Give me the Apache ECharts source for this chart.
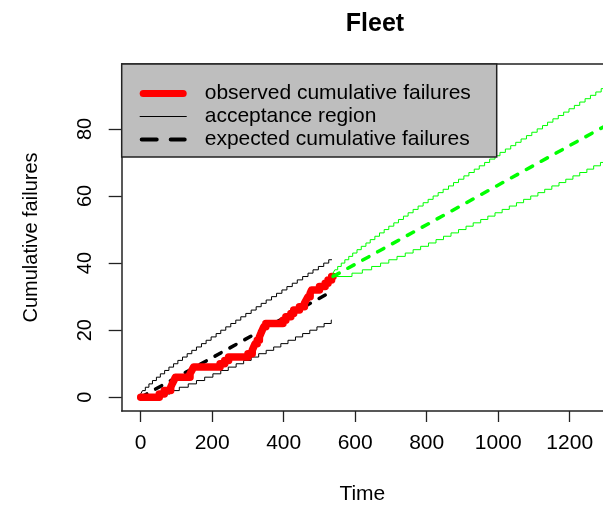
<!DOCTYPE html>
<html><head><meta charset="utf-8">
<script src="https://cdn.jsdelivr.net/npm/echarts@6/dist/echarts.min.js"></script>
<style>html,body{margin:0;padding:0;background:#fff}#c{width:603px;height:505px}</style>
</head><body><div id="c"></div>
<script>
// ---- data ----
const xTicks = [0, 200, 400, 600, 800, 1000, 1200];
const yTicks = [0, 20, 40, 60, 80];

const obsTime  = [0, 52, 66, 84, 88, 93, 97, 138, 143, 148, 222, 235, 246, 300, 312, 316, 320, 326, 332, 336, 340, 344, 350, 398, 406, 420, 428, 444, 458, 463, 468, 474, 478, 500, 516, 524, 534, 538];
const obsCount = [0, 1, 2, 3, 4, 5, 6, 7, 8, 9, 10, 11, 12, 13, 14, 15, 16, 17, 18, 19, 20, 21, 22, 23, 24, 25, 26, 27, 28, 29, 30, 31, 32, 33, 34, 35, 36, 36];

const accUpperTime  = [0, 5, 13, 23, 33, 44, 55, 67, 79, 92, 104, 117, 130, 143, 156, 170, 183, 197, 211, 224, 238, 252, 266, 280, 294, 309, 323, 337, 351, 366, 380, 395, 409, 424, 438, 453, 468, 482, 497, 512, 526, 535];
const accUpperLevel = [1, 2, 3, 4, 5, 6, 7, 8, 9, 10, 11, 12, 13, 14, 15, 16, 17, 18, 19, 20, 21, 22, 23, 24, 25, 26, 27, 28, 29, 30, 31, 32, 33, 34, 35, 36, 37, 38, 39, 40, 41, 41];

const accLowerTime  = [0, 53, 82, 108, 133, 156, 179, 202, 224, 245, 267, 288, 309, 330, 351, 372, 392, 412, 433, 453, 473, 493, 513, 533, 535];
const accLowerLevel = [0, 1, 2, 3, 4, 5, 6, 7, 8, 9, 10, 11, 12, 13, 14, 15, 16, 17, 18, 19, 20, 21, 22, 23, 23];

const expTime  = [0, 535];
const expValue = [0, 31.6];

const predUpperTime  = [538, 538, 543, 551, 561, 571, 582, 593, 605, 617, 630, 642, 655, 668, 681, 694, 708, 721, 735, 748, 762, 776, 790, 804, 818, 832, 846, 861, 875, 889, 904, 918, 933, 947, 962, 976, 991, 1005, 1020, 1035, 1049, 1064, 1079, 1094, 1109, 1124, 1138, 1153, 1168, 1183, 1198, 1213, 1228, 1243, 1258, 1273, 1288, 1303, 1319, 1330];
const predUpperLevel = [36, 37, 38, 39, 40, 41, 42, 43, 44, 45, 46, 47, 48, 49, 50, 51, 52, 53, 54, 55, 56, 57, 58, 59, 60, 61, 62, 63, 64, 65, 66, 67, 68, 69, 70, 71, 72, 73, 74, 75, 76, 77, 78, 79, 80, 81, 82, 83, 84, 85, 86, 87, 88, 89, 90, 91, 92, 93, 94, 94];

const predLowerTime  = [538, 591, 620, 646, 671, 694, 717, 740, 762, 783, 805, 826, 847, 868, 889, 910, 930, 951, 971, 991, 1011, 1031, 1051, 1071, 1091, 1111, 1130, 1150, 1170, 1189, 1209, 1228, 1248, 1267, 1286, 1306, 1330];
const predLowerLevel = [36, 37, 38, 39, 40, 41, 42, 43, 44, 45, 46, 47, 48, 49, 50, 51, 52, 53, 54, 55, 56, 57, 58, 59, 60, 61, 62, 63, 64, 65, 66, 67, 68, 69, 70, 71, 71];

const predExpTime  = [538, 1330];
const predExpValue = [36, 82.7];

const legendNames = ['observed cumulative failures', 'acceptance region', 'expected cumulative failures'];

// ---- chart ----
const F = '"Liberation Sans", Arial, Helvetica, sans-serif';
const zip = (a, b) => a.map((v, i) => [v, b[i]]);
const AX = '#222';
const plain = v => String(v);

const chart = echarts.init(document.getElementById('c'), null, {renderer: 'canvas'});
chart.setOption({
  animation: false,
  backgroundColor: '#fff',
  title: {
    text: 'Fleet', left: 370, top: 7, textAlign: 'center',
    textStyle: {fontSize: 25, fontWeight: 'bold', color: '#000', fontFamily: F}
  },
  grid: {left: 121.7, right: 0, top: 64, bottom: 94, containLabel: false, outerBoundsMode: 'none'},
  xAxis: [{
    type: 'value', min: -53.1, max: 1293.1, position: 'bottom',
    axisLine: {show: true, onZero: false, lineStyle: {color: AX, width: 1.5}},
    axisTick: {show: true, length: 11, customValues: xTicks, lineStyle: {color: AX, width: 1.3}},
    axisLabel: {customValues: xTicks, formatter: plain, margin: 22, fontSize: 21, color: '#000', fontFamily: F},
    splitLine: {show: false},
    name: 'Time', nameLocation: 'middle', nameGap: 73,
    nameTextStyle: {fontSize: 21, color: '#000', fontFamily: F}
  }, {
    type: 'value', min: -53.1, max: 1293.1, position: 'top',
    axisLine: {show: true, onZero: false, lineStyle: {color: AX, width: 1.5}},
    axisTick: {show: false}, axisLabel: {show: false}, splitLine: {show: false}
  }],
  yAxis: {
    type: 'value', min: -4.08, max: 99.34,
    axisLine: {show: true, onZero: false, lineStyle: {color: AX, width: 1.5}},
    axisTick: {show: true, length: 13, customValues: yTicks, lineStyle: {color: AX, width: 1.3}},
    axisLabel: {customValues: yTicks, formatter: plain, rotate: 90, margin: 26, fontSize: 20, color: '#000', fontFamily: F},
    splitLine: {show: false},
    name: 'Cumulative failures', nameLocation: 'middle', nameGap: 80, nameRotate: 90,
    nameTextStyle: {fontSize: 20, color: '#000', fontFamily: F}
  },
  legend: {
    orient: 'vertical', left: 121.7, top: 64,
    padding: [18, 10, 6, 18], itemGap: 0, itemWidth: 47, itemHeight: 8,
    backgroundColor: '#BEBEBE', borderColor: AX, borderWidth: 1.5,
    selectedMode: false,
    itemStyle: {borderWidth: 0},
    textStyle: {fontSize: 21, color: '#000', fontFamily: F, lineHeight: 23, width: 282, padding: [0, 0, 0, 13]},
    data: [
      {name: legendNames[0], icon: 'path://M3.5,0 L43.5,0 A3.5,3.5 0 0 1 43.5,7 L3.5,7 A3.5,3.5 0 0 1 3.5,0 Z'},
      {name: legendNames[1], icon: 'path://M0,0 L47,0 L47,1.2 L0,1.2 Z'},
      {name: legendNames[2], icon: 'path://M2,0 L17,0 A2,2 0 0 1 17,4 L2,4 A2,2 0 0 1 2,0 Z M31,0 L45,0 A2,2 0 0 1 45,4 L31,4 A2,2 0 0 1 31,0 Z'}
    ]
  },
  series: [
    {name: legendNames[1], type: 'line', step: 'end', data: zip(accUpperTime, accUpperLevel),
     showSymbol: false, symbol: 'none', color: '#000', lineStyle: {color: '#000', width: 1}},
    {name: legendNames[1], type: 'line', step: 'end', data: zip(accLowerTime, accLowerLevel),
     showSymbol: false, symbol: 'none', color: '#000', lineStyle: {color: '#000', width: 1}},
    {name: legendNames[2], type: 'line', data: zip(expTime, expValue),
     showSymbol: false, symbol: 'none', color: '#000',
     lineStyle: {color: '#000', width: 3.5, type: [7, 10], cap: 'round'}},
    {name: legendNames[0], type: 'line', step: 'end', data: zip(obsTime, obsCount),
     showSymbol: false, symbol: 'none', color: '#FF0000',
     lineStyle: {color: '#FF0000', width: 7.5, cap: 'round', join: 'round'}},
    {name: 'predicted upper', type: 'line', step: 'end', data: zip(predUpperTime, predUpperLevel),
     showSymbol: false, symbol: 'none', color: '#00FF00', lineStyle: {color: '#00FF00', width: 1}},
    {name: 'predicted lower', type: 'line', step: 'end', data: zip(predLowerTime, predLowerLevel),
     showSymbol: false, symbol: 'none', color: '#00FF00', lineStyle: {color: '#00FF00', width: 1}},
    {name: 'predicted expected', type: 'line', data: zip(predExpTime, predExpValue),
     showSymbol: false, symbol: 'none', color: '#00FF00',
     lineStyle: {color: '#00FF00', width: 3.5, type: [7, 10], cap: 'round'}}
  ]
});
</script></body></html>
